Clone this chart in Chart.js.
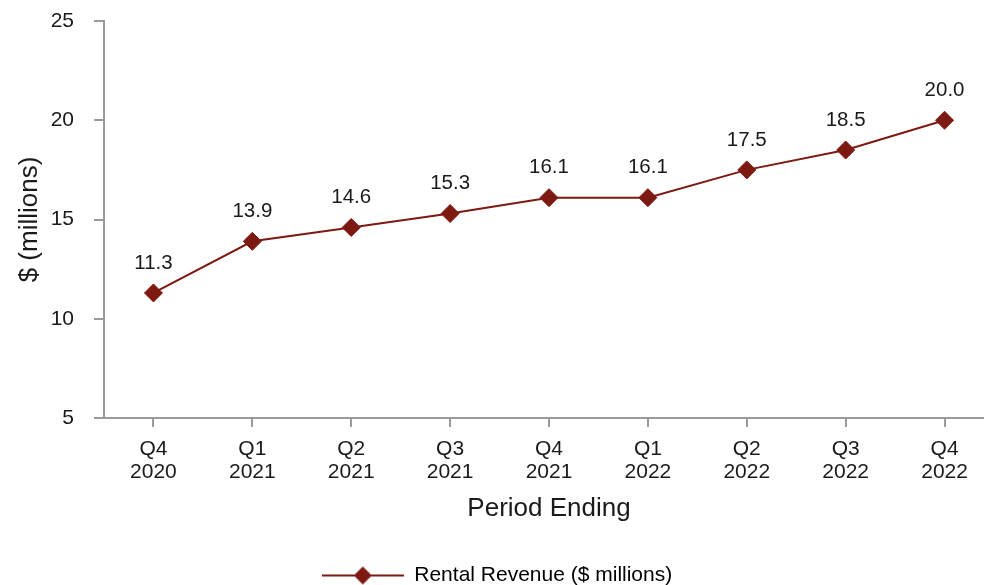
<!DOCTYPE html>
<html>
<head>
<meta charset="utf-8">
<script src="https://cdn.jsdelivr.net/npm/chart.js@4"></script>
<style>
  html, body { margin: 0; padding: 0; background: #fff; overflow: hidden; }
  #chart { display: block; }
</style>
</head>
<body>
<canvas id="chart" width="994" height="585"></canvas>
<script>
const quarters = [
    ['Q4', '2020'], ['Q1', '2021'], ['Q2', '2021'], ['Q3', '2021'], ['Q4', '2021'],
    ['Q1', '2022'], ['Q2', '2022'], ['Q3', '2022'], ['Q4', '2022']
];
const revenue = [11.3, 13.9, 14.6, 15.3, 16.1, 16.1, 17.5, 18.5, 20.0];
const yTicks = [5, 10, 15, 20, 25];

const lineColor = '#7d1911';
const axisColor = '#9a9a9a';
const textColor = '#1a1a1a';
const fontFamily = '"Liberation Sans", Arial, Helvetica, sans-serif';

// legend swatch: short line with a diamond in the middle
function legendSwatch() {
    const c = document.createElement('canvas');
    c.width = 82;
    c.height = 20;
    const g = c.getContext('2d');
    g.strokeStyle = lineColor;
    g.lineWidth = 2;
    g.beginPath();
    g.moveTo(0, 10);
    g.lineTo(82, 10);
    g.stroke();
    g.fillStyle = lineColor;
    g.beginPath();
    g.moveTo(41, 1);
    g.lineTo(50, 10);
    g.lineTo(41, 19);
    g.lineTo(32, 10);
    g.closePath();
    g.fill();
    return c;
}

// value labels above each point
const valueLabels = {
    id: 'valueLabels',
    afterDatasetsDraw(chart) {
        const { ctx } = chart;
        const meta = chart.getDatasetMeta(0);
        ctx.save();
        ctx.font = '20.5px ' + fontFamily;
        ctx.fillStyle = textColor;
        ctx.textAlign = 'center';
        ctx.textBaseline = 'middle';
        meta.data.forEach((pt, i) => {
            ctx.fillText(revenue[i].toFixed(1), pt.x, pt.y - 30);
        });
        ctx.restore();
    }
};

const swatch = legendSwatch();

new Chart(document.getElementById('chart'), {
    type: 'line',
    data: {
        labels: quarters,
        datasets: [{
            label: 'Rental Revenue ($ millions)',
            data: revenue,
            borderColor: lineColor,
            backgroundColor: lineColor,
            borderWidth: 2,
            tension: 0,
            pointStyle: 'rectRot',
            pointRadius: 9,
            pointBorderWidth: 1,
            pointBackgroundColor: lineColor,
            pointBorderColor: lineColor
        }]
    },
    options: {
        responsive: false,
        animation: false,
        layout: {
            autoPadding: false,
            padding: { top: 21, left: 0, right: 0, bottom: -11 }
        },
        plugins: {
            tooltip: { enabled: false },
            legend: {
                position: 'bottom',
                labels: {
                    usePointStyle: true,
                    pointStyleWidth: 82,
                    padding: 0,
                    color: textColor,
                    font: { size: 21, family: fontFamily },
                    generateLabels: (chart) => [{
                        text: chart.data.datasets[0].label,
                        pointStyle: swatch,
                        fillStyle: lineColor,
                        strokeStyle: lineColor,
                        lineWidth: 0,
                        datasetIndex: 0
                    }]
                }
            }
        },
        scales: {
            x: {
                offset: true,
                afterFit: (s) => {
                    s.height = 147;
                    s.paddingLeft = 0;
                    s.paddingRight = 0;
                },
                border: { display: true, color: axisColor, width: 2 },
                grid: {
                    offset: false,
                    drawOnChartArea: false,
                    drawTicks: true,
                    tickLength: 9,
                    color: axisColor,
                    lineWidth: 2
                },
                ticks: {
                    color: textColor,
                    padding: 11,
                    maxRotation: 0,
                    font: { size: 21, family: fontFamily, lineHeight: 1.1 }
                },
                title: {
                    display: true,
                    text: 'Period Ending',
                    color: textColor,
                    font: { size: 26, family: fontFamily },
                    padding: { top: 0, bottom: 41 }
                }
            },
            y: {
                min: 5,
                max: 25,
                afterFit: (s) => {
                    s.width = 104;
                    s.paddingTop = 0;
                    s.paddingBottom = 0;
                },
                afterBuildTicks: (s) => { s.ticks = yTicks.map(v => ({ value: v })); },
                border: { display: true, color: axisColor, width: 2 },
                grid: {
                    drawOnChartArea: false,
                    drawTicks: true,
                    tickLength: 10,
                    color: axisColor,
                    lineWidth: 2
                },
                ticks: {
                    color: textColor,
                    padding: 20,
                    font: { size: 21, family: fontFamily }
                },
                title: {
                    display: true,
                    text: '$ (millions)',
                    color: textColor,
                    font: { size: 26, family: fontFamily },
                    padding: { top: 14, bottom: 0 }
                }
            }
        }
    },
    plugins: [valueLabels]
});
</script>
</body>
</html>
